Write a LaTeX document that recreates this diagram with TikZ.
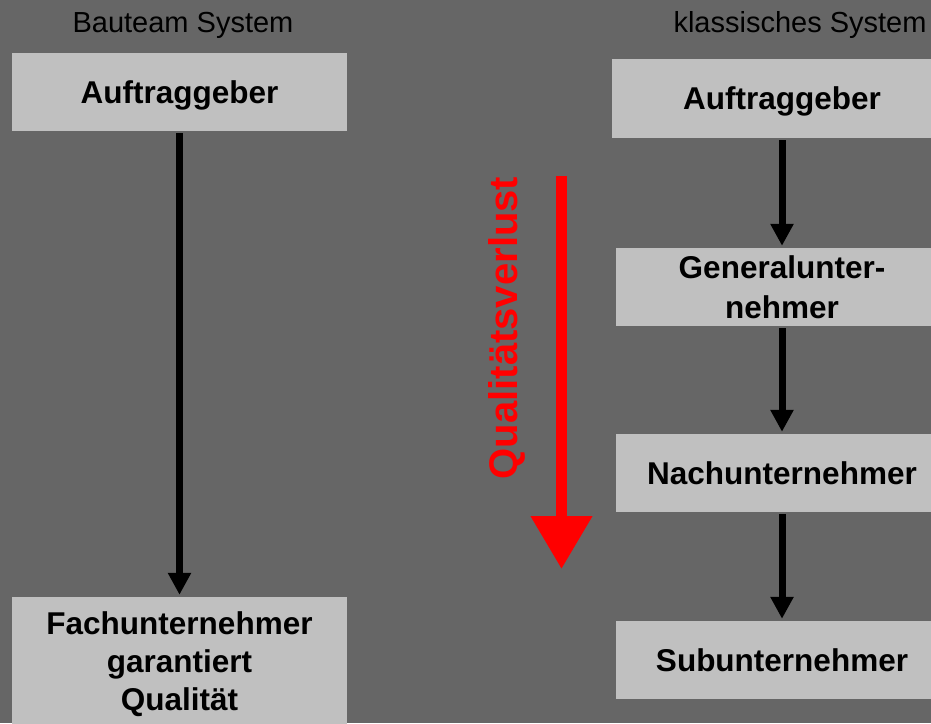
\documentclass[tikz,border=0pt]{standalone}
\usepackage{fontspec}
\setmainfont{Liberation Sans}
\usetikzlibrary{arrows.meta}
\definecolor{bggray}{RGB}{102,102,102}
\definecolor{boxgray}{RGB}{192,192,192}
\tikzset{
  box/.style={fill=boxgray, draw=none, inner sep=0pt, align=center,
    font=\fontsize{31.5}{38}\selectfont\bfseries},
  oneline/.style={text height=22pt, text depth=0pt},
  title/.style={anchor=base, font=\fontsize{29}{34}\selectfont},
  flow/.style={line width=7pt, -{Triangle[width=22pt,length=22pt]},
    shorten <=2pt, shorten >=2pt},
  loss/.style={draw=red, line width=11pt, -{Triangle[width=59pt,length=53pt]}}
}
\begin{document}
\begin{tikzpicture}[x=1pt,y=-1pt]
\fill[bggray] (0,0) rectangle (931,723);
\useasboundingbox (0,0) rectangle (931,723);

\node[title] (t1) at (183,32) {Bauteam System};
\node[title] (t2) at (800,32) {klassisches System};

\node[box, oneline, minimum width=335pt, minimum height=78pt] (la) at (179.5,92) {Auftraggeber};
\node[box, minimum width=335pt, minimum height=134pt] (lf) at (179.5,664) {Fachunternehmer\\garantiert\\Qualität};

\node[box, oneline, minimum width=340pt, minimum height=79pt] (ra) at (782,98.5) {Auftraggeber};
\node[box, font=\fontsize{31.5}{40}\selectfont\bfseries, minimum width=332pt, minimum height=78pt] (rg) at (782,287) {Generalunter-\\nehmer};
\node[box, oneline, minimum width=332pt, minimum height=78pt] (rn) at (782,473) {Nachunternehmer};
\node[box, oneline, minimum width=332pt, minimum height=78pt] (rs) at (782,660) {Subunternehmer};

\draw[flow] (la.south) -- (lf.north);
\draw[flow] (ra.south) -- (rg.north);
\draw[flow] (rg.south) -- (rn.north);
\draw[flow] (rn.south) -- (rs.north);

\coordinate (qtop) at (561.5,176);
\coordinate (qbot) at (561.5,569);
\draw[loss] (qtop) -- (qbot);
\node[rotate=90, text=red, font=\fontsize{40}{46}\selectfont\bfseries, inner sep=0pt] (ql) at (507,328) {Qualitätsverlust};
\end{tikzpicture}
\end{document}
